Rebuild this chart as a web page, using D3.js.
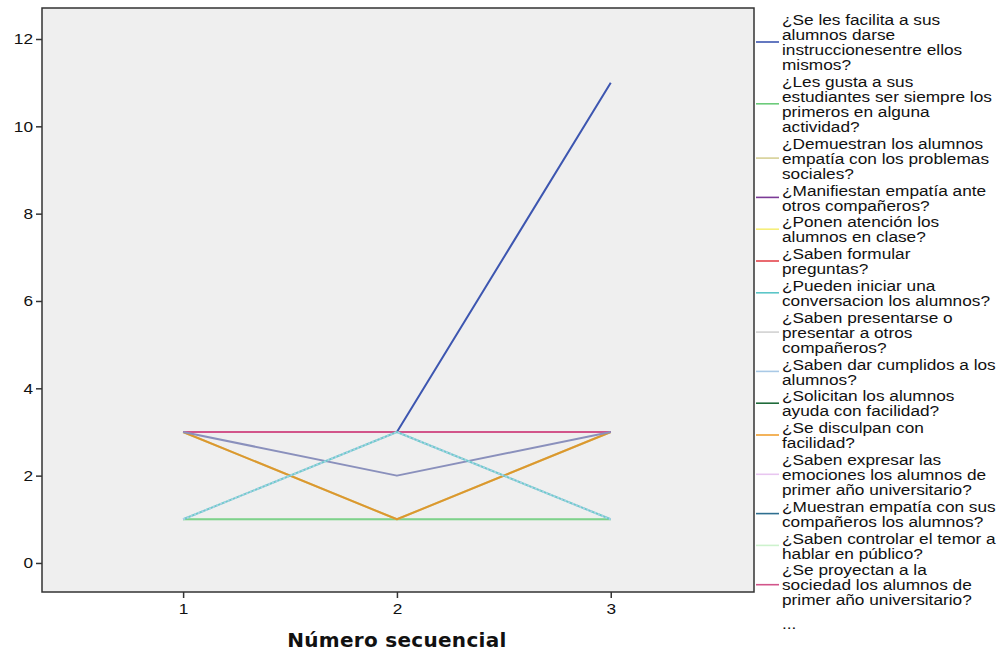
<!DOCTYPE html>
<html><head><meta charset="utf-8">
<script src="https://cdn.jsdelivr.net/npm/d3@7"></script>
<style>
body{margin:0;background:#fff;}
text{font-family:"Liberation Sans",Arial,sans-serif;}
</style></head>
<body><svg id="c" width="1001" height="652"></svg>
<script>
const categories = [1, 2, 3];
const yTicks = [0, 2, 4, 6, 8, 10, 12];
const seriesNames = [
  "¿Se les facilita a sus|alumnos darse|instruccionesentre ellos|mismos?",
  "¿Les gusta a sus|estudiantes ser siempre los|primeros en alguna|actividad?",
  "¿Demuestran los alumnos|empatía con los problemas|sociales?",
  "¿Manifiestan empatía ante|otros compañeros?",
  "¿Ponen atención los|alumnos en clase?",
  "¿Saben formular|preguntas?",
  "¿Pueden iniciar una|conversacion los alumnos?",
  "¿Saben presentarse o|presentar a otros|compañeros?",
  "¿Saben dar cumplidos a los|alumnos?",
  "¿Solicitan los alumnos|ayuda con facilidad?",
  "¿Se disculpan con|facilidad?",
  "¿Saben expresar las|emociones los alumnos de|primer año universitario?",
  "¿Muestran empatía con sus|compañeros los alumnos?",
  "¿Saben controlar el temor a|hablar en público?",
  "¿Se proyectan a la|sociedad los alumnos de|primer año universitario?",
  "(otras variables)"
];
const seriesValues = [
  [3, 3, 11],
  [1, 1, 1],
  [3, 1, 3],
  [3, 3, 3],
  [3, 3, 3],
  [3, 3, 3],
  [1, 3, 1],
  [3, 3, 3],
  [1, 3, 1],
  [3, 3, 3],
  [3, 1, 3],
  [3, 3, 3],
  [3, 3, 3],
  [1, 1, 1],
  [3, 3, 3],
  [3, 2, 3]
];
const seriesColors = ["#3d56b0","#6ccb7a","#d6d096","#7b3a96","#f6ee7a","#e4444c","#5cc6c8","#d2d2d2","#a9c9e6","#1f6b3a","#f0a032","#e8c6f0","#2f6f90","#cdf2cd","#d2558a","#8a90bc"];
const lineColors = ["#3d56b0","#7fd08c","#d6d096","#7b3a96","#f6ee7a","#e4444c","#6ccaca","#d2d2d2","#acd0e6","#1f6b3a","#dc982e","#e8c6f0","#2f6f90","#cdf2cd","#d2558a","#8a90bc"];
const legendCount = 15;
const drawOrder = [0,13,1,2,10,3,4,5,7,9,11,12,14,15,6,8];

const svg = d3.select("#c");
const L = 42, R = 754, T = 8, B = 592;
const x = d3.scaleLinear().domain([0.34, 3.67]).range([L, R]);
const y = d3.scaleLinear().domain([-0.665, 12.71]).range([B, T]);

svg.append("rect").attr("x", L).attr("y", T).attr("width", R - L).attr("height", B - T)
  .attr("fill", "#efefef");

const line = d3.line().x((d, i) => x(categories[i])).y(d => y(d));
const g = svg.append("g");
drawOrder.forEach(i => {
  const p = g.append("path").datum(seriesValues[i]).attr("d", line)
    .attr("fill", "none").attr("stroke", lineColors[i]).attr("stroke-width", 2)
    .attr("stroke-linejoin", "round");
  if (i === 8) p.attr("stroke-dasharray", "2,2");
});

svg.append("rect").attr("x", L).attr("y", T).attr("width", R - L).attr("height", B - T)
  .attr("fill", "none").attr("stroke", "#333").attr("stroke-width", 1.5);

const yAx = svg.append("g").attr("transform", `translate(${L},0)`)
  .call(d3.axisLeft(y).tickValues(yTicks).tickSize(6).tickPadding(3));
const xAx = svg.append("g").attr("transform", `translate(0,${B})`)
  .call(d3.axisBottom(x).tickValues(categories).tickSize(6).tickPadding(5).tickFormat(d3.format("d")));
[yAx, xAx].forEach(a => {
  a.select(".domain").remove();
  a.selectAll(".tick line").attr("stroke", "#333").attr("stroke-width", 1.5);
  a.selectAll(".tick text").attr("fill", "#111").style("font-size", "15px")
    .style("font-family", "'Liberation Sans', Arial, sans-serif");
});
yAx.selectAll(".tick text").each(function() {
  const t = d3.select(this);
  const xx = +t.attr("x");
  t.attr("x", null).attr("transform", `translate(${xx},0) scale(1.15,1)`);
});
xAx.selectAll(".tick text").each(function() {
  const t = d3.select(this);
  const yy = +t.attr("y");
  t.attr("y", null).attr("transform", `translate(0,${yy}) scale(1.15,1)`);
});

svg.append("text").attr("x", x(2)).attr("y", 647).attr("text-anchor", "middle")
  .style("font-size", "20px").style("font-weight", "bold").attr("fill", "#111")
  .style("font-family", "'DejaVu Sans', sans-serif").style("letter-spacing", "0.3px")
  .text("Número secuencial");

// legend
const lh = 15, gap = 1.8;
let cy = 20;
const lg = svg.append("g");
for (let i = 0; i < legendCount; i++) {
  const lines = seriesNames[i].split("|");
  const mid = cy + (lines.length - 1) * lh / 2;
  lg.append("line").attr("x1", 756).attr("x2", 779).attr("y1", mid - 0.5).attr("y2", mid - 0.5)
    .attr("stroke", seriesColors[i]).attr("stroke-width", 1.6);
  lines.forEach((t, k) => {
    lg.append("text").attr("transform", `translate(782,${cy + k * lh}) scale(1.15,1)`)
      .attr("dy", "0.35em").style("font-size", "15px").attr("fill", "#111").text(t);
  });
  cy += lines.length * lh + gap;
}
lg.append("text").attr("transform", `translate(782,${cy + 7}) scale(1.15,1)`).attr("dy", "0.35em")
  .style("font-size", "15px").attr("fill", "#111").text("...");
</script></body></html>
